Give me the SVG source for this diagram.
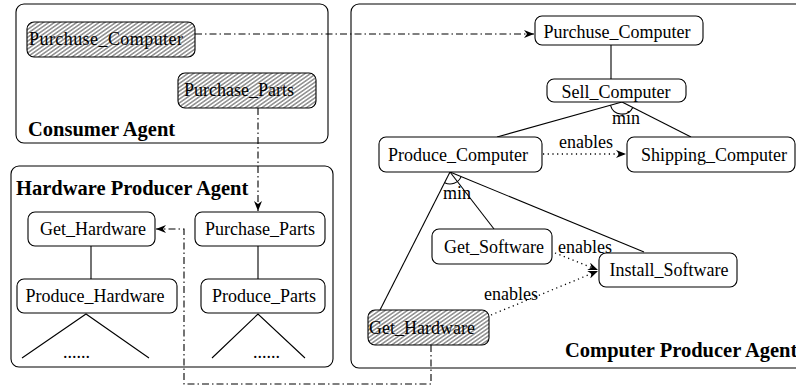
<svg xmlns="http://www.w3.org/2000/svg" width="796" height="388" viewBox="0 0 796 388">
<style>
text{font-family:"Liberation Serif","Times New Roman",serif;font-size:18px;fill:#000}
.t{font-weight:bold;font-size:20.5px}
.m{text-anchor:middle}
.agent{fill:none;stroke:#000;stroke-width:1.1}
.node{fill:#fff;stroke:#000;stroke-width:1.1}
.hatch{fill:url(#hp);stroke:#000;stroke-width:1.1}
.ln{fill:none;stroke:#000;stroke-width:1.1}
.dd{fill:none;stroke:#000;stroke-width:1.1;stroke-dasharray:7 3 1.5 3}
.dot{fill:none;stroke:#000;stroke-width:1.3;stroke-dasharray:1.2 3.5}
</style>
<defs>
<pattern id="hp" patternUnits="userSpaceOnUse" width="4" height="3.2" patternTransform="rotate(-35)">
<rect width="4" height="3.2" fill="#fff"/>
<line x1="0" y1="1.6" x2="4" y2="1.6" stroke="#000" stroke-width="0.75"/>
</pattern>
<marker id="ah" markerUnits="userSpaceOnUse" markerWidth="11" markerHeight="8" refX="10" refY="4" orient="auto">
<path d="M0,0 L10,4 L0,8 L3,4 z" fill="#000"/>
</marker>
</defs>
<rect width="796" height="388" fill="#fff"/>

<g id="consumer-agent">
<rect class="agent" x="16" y="4" width="312" height="139" rx="8"/>
<text class="t" x="28" y="136">Consumer Agent</text>
</g>
<g id="hardware-agent">
<rect class="agent" x="11" y="166" width="322" height="201" rx="8"/>
<text class="t" x="16" y="195">Hardware Producer Agent</text>
</g>
<g id="computer-agent">
<rect class="agent" x="351" y="4" width="470" height="364" rx="8"/>
<text class="t" x="565" y="357">Computer Producer Agent</text>
</g>

<g id="connectors">
<line class="dd" x1="195" y1="34" x2="534" y2="34" marker-end="url(#ah)"/>
<line class="dd" x1="258" y1="108" x2="258" y2="211" marker-end="url(#ah)"/>
<polyline class="dd" points="431,345 431,384 184,384 184,229 156,229" marker-end="url(#ah)"/>
<line class="ln" x1="611" y1="45" x2="611" y2="79"/>
<line class="ln" x1="622" y1="102" x2="497" y2="137"/>
<line class="ln" x1="622" y1="102" x2="691" y2="137"/>
<path class="ln" d="M610.5 105.3 A12 12 0 0 0 632.8 107.4"/>
<line class="dot" x1="543" y1="154" x2="626" y2="154" marker-end="url(#ah)"/>
<line class="ln" x1="450" y1="172" x2="380" y2="310"/>
<line class="ln" x1="450" y1="172" x2="494" y2="229"/>
<line class="ln" x1="450" y1="172" x2="644" y2="252"/>
<path class="ln" d="M444.6 182.7 A12 12 0 0 0 461.1 176.6"/>
<line class="dot" x1="555" y1="253" x2="598" y2="270" marker-end="url(#ah)"/>
<line class="dot" x1="491" y1="315" x2="598" y2="271" marker-end="url(#ah)"/>
<line class="ln" x1="91" y1="246" x2="91" y2="279"/>
<line class="ln" x1="258" y1="246" x2="258" y2="279"/>
<polyline class="ln" points="22,358 86,314 149,358"/>
<polyline class="ln" points="212,358 258,314 305,358"/>
<text x="612" y="124">min</text>
<text x="443" y="199">min</text>
<text x="559" y="148">enables</text>
<text x="558" y="253">enables</text>
<text x="484" y="300">enables</text>
<text x="63" y="358">......</text>
<text x="253" y="358">......</text>
</g>

<g id="c-purchuse-computer">
<rect class="hatch" x="27" y="22" width="168" height="35" rx="7"/>
<text x="29" y="45" textLength="154">Purchuse_Computer</text>
</g>
<g id="c-purchase-parts">
<rect class="hatch" x="178" y="73" width="138" height="35" rx="7"/>
<text x="184" y="96">Purchase_Parts</text>
</g>
<g id="h-get-hardware">
<rect class="node" x="28" y="212" width="127" height="34" rx="7"/>
<text class="m" x="93" y="235">Get_Hardware</text>
</g>
<g id="h-purchase-parts">
<rect class="node" x="195" y="212" width="130" height="34" rx="7"/>
<text class="m" x="260" y="235">Purchase_Parts</text>
</g>
<g id="h-produce-hardware">
<rect class="node" x="17" y="279" width="160" height="34" rx="7"/>
<text class="m" x="95" y="302">Produce_Hardware</text>
</g>
<g id="h-produce-parts">
<rect class="node" x="201" y="279" width="124" height="34" rx="7"/>
<text class="m" x="264" y="302">Produce_Parts</text>
</g>
<g id="p-purchuse-computer">
<rect class="node" x="535" y="16" width="168" height="29" rx="7"/>
<text class="m" x="617" y="38">Purchuse_Computer</text>
</g>
<g id="p-sell-computer">
<rect class="node" x="547" y="79" width="139" height="23" rx="7"/>
<text class="m" x="616" y="98">Sell_Computer</text>
</g>
<g id="p-produce-computer">
<rect class="node" x="379" y="137" width="163" height="35" rx="7"/>
<text class="m" x="458" y="161">Produce_Computer</text>
</g>
<g id="p-shipping-computer">
<rect class="node" x="627" y="137" width="168" height="35" rx="7"/>
<text class="m" x="714" y="161">Shipping_Computer</text>
</g>
<g id="p-get-software">
<rect class="node" x="432" y="229" width="120" height="35" rx="7"/>
<text class="m" x="494" y="253">Get_Software</text>
</g>
<g id="p-install-software">
<rect class="node" x="599" y="253" width="138" height="34" rx="7"/>
<text class="m" x="669" y="276">Install_Software</text>
</g>
<g id="p-get-hardware">
<rect class="hatch" x="368" y="310" width="121" height="35" rx="7"/>
<text x="369" y="334">Get_Hardware</text>
</g>
</svg>
